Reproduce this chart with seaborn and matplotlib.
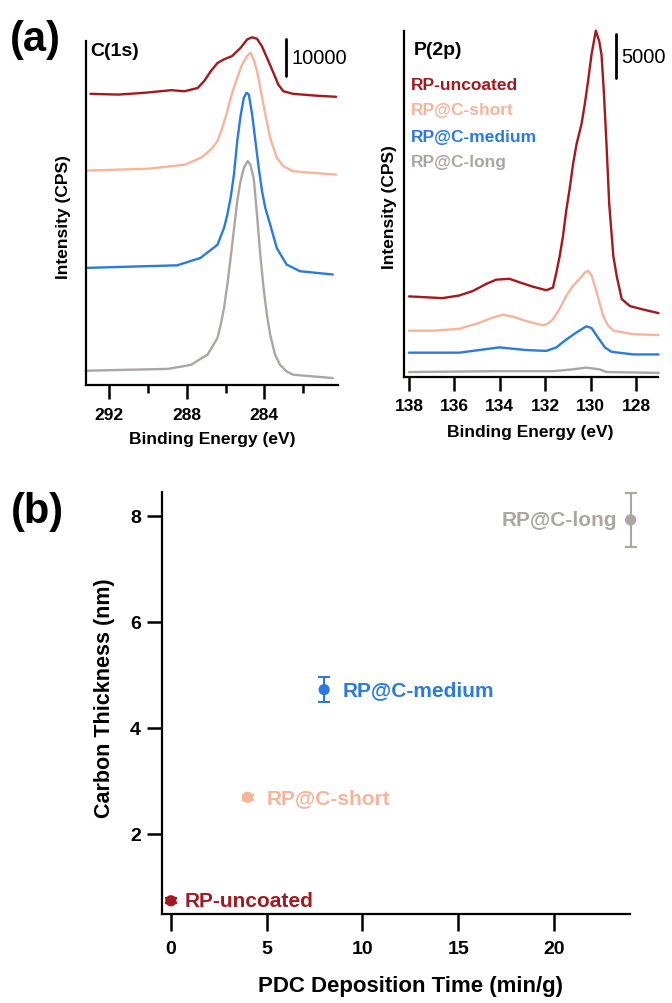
import numpy as np
import pandas as pd
import matplotlib
matplotlib.use("Agg")
import matplotlib.pyplot as plt
import seaborn as sns

# ---------------- data ----------------
samples = ["RP-uncoated", "RP@C-short", "RP@C-medium", "RP@C-long"]
colors = {"RP-uncoated": "#A2191F", "RP@C-short": "#F6B59B",
          "RP@C-medium": "#2A7AE2", "RP@C-long": "#ABA6A4"}

# C(1s) spectra, binding energy (eV) and intensity (CPS, stacked as displayed)
c1s_uncoated_be = [292.97, 291.52, 290.16, 288.8, 288.12, 287.44, 287.10, 286.76, 286.42, 286.08,
                   285.66, 285.23, 284.89, 284.64, 284.38, 284.13, 283.79, 283.53, 283.28, 283.02,
                   282.51, 281.32, 280.30]
c1s_uncoated_cps = [79300, 79100, 79600, 80300, 80000, 80900, 82800, 85500, 87700, 88700,
                    89600, 91800, 94100, 94700, 94300, 92300, 88200, 85000, 81800, 80000,
                    79300, 78800, 78500]
c1s_short_be = [293.2, 290.0, 288.1, 287.27, 286.76, 286.42, 286.17, 285.91, 285.66, 285.40,
                285.15, 284.89, 284.72, 284.55, 284.38, 284.21, 283.95, 283.70, 283.36, 283.02,
                282.51, 280.30]
c1s_short_cps = [58400, 58900, 60000, 61900, 64100, 66400, 70000, 74600, 79600, 83700,
                 87300, 89600, 90500, 88600, 85500, 80900, 73700, 67300, 61900, 59600,
                 58200, 57300]
c1s_medium_be = [293.2, 288.5, 287.3, 286.42, 286.08, 285.91, 285.74, 285.57, 285.40, 285.23,
                 285.06, 284.92, 284.80, 284.63, 284.46, 284.29, 284.12, 283.95, 283.70, 283.36,
                 282.85, 282.17, 280.47]
c1s_medium_cps = [31900, 32600, 34600, 38200, 42800, 46400, 51000, 57300, 66400, 73200,
                  78200, 79600, 79100, 73700, 66400, 59100, 52800, 48200, 43700, 37300,
                  32800, 31000, 30100]
c1s_long_be = [293.2, 288.97, 287.78, 286.93, 286.42, 286.25, 286.08, 285.91, 285.74, 285.57,
               285.40, 285.23, 285.06, 284.86, 284.72, 284.55, 284.38, 284.21, 284.04, 283.87,
               283.70, 283.45, 283.19, 282.85, 282.51, 280.47]
c1s_long_cps = [3900, 4400, 5500, 8300, 12800, 16400, 21000, 27300, 34600, 42300,
                50100, 55500, 59100, 61000, 60000, 56400, 46400, 35500, 26400, 19200,
                13700, 8300, 5500, 3700, 2800, 1900]

# P(2p) spectra
p2p_uncoated_be = [138.0, 137.26, 136.53, 135.79, 135.2, 134.61, 134.16, 133.58, 133.13, 132.54,
                   131.95, 131.66, 131.51, 131.36, 131.22, 131.07, 130.92, 130.77, 130.62, 130.40,
                   130.26, 130.11, 129.96, 129.77, 129.62, 129.52, 129.42, 129.30, 129.18, 129.0,
                   128.85, 128.63, 128.27, 127.68, 127.01]
p2p_uncoated_cps = [9200, 9100, 9000, 9300, 9800, 10600, 11100, 11200, 10800, 10300,
                    9900, 10200, 11900, 13800, 16000, 19000, 21500, 24300, 26500, 28800,
                    31000, 33700, 36700, 39400, 38200, 36700, 32600, 26500, 19700, 13800,
                    11500, 8900, 8100, 7700, 7300]
p2p_short_be = [138.0, 136.97, 135.79, 134.9, 134.31, 133.87, 133.43, 132.84, 132.10, 131.88,
                131.66, 131.36, 131.07, 130.77, 130.48, 130.26, 130.11, 129.96, 129.74, 129.45,
                129.23, 129.0, 128.12, 127.01]
p2p_short_cps = [5300, 5300, 5500, 6200, 6800, 7100, 6900, 6400, 5900, 6100,
                 6600, 7800, 9300, 10400, 11200, 11900, 12100, 11600, 9700, 7000,
                 5900, 5300, 4900, 4800]
p2p_medium_be = [138.0, 135.79, 134.02, 132.84, 131.95, 131.51, 131.07, 130.62, 130.19, 129.96,
                 129.67, 129.37, 129.08, 128.12, 127.01]
p2p_medium_cps = [2800, 2800, 3400, 3100, 3000, 3400, 4300, 5100, 5800, 5600,
                  4500, 3400, 2900, 2600, 2600]
p2p_long_be = [138.0, 134.0, 131.66, 130.8, 130.19, 129.6, 129.3, 127.0]
p2p_long_cps = [600, 700, 700, 900, 1100, 900, 600, 500]

# Panel (b): carbon thickness vs deposition time
pdc_time = [0, 4, 8, 24]
thickness = [0.74, 2.69, 4.72, 7.92]
thickness_err = [0.05, 0.05, 0.235, 0.51]

c1s_scale = 10000
p2p_scale = 5000

# ---------------- build tables ----------------
def long_df(pairs):
    rows = []
    for name, be, cps in pairs:
        rows.append(pd.DataFrame({"be": be, "cps": cps, "sample": name}))
    return pd.concat(rows, ignore_index=True)

c1s_df = long_df([("RP-uncoated", c1s_uncoated_be, c1s_uncoated_cps),
                  ("RP@C-short", c1s_short_be, c1s_short_cps),
                  ("RP@C-medium", c1s_medium_be, c1s_medium_cps),
                  ("RP@C-long", c1s_long_be, c1s_long_cps)])
p2p_df = long_df([("RP-uncoated", p2p_uncoated_be, p2p_uncoated_cps),
                  ("RP@C-short", p2p_short_be, p2p_short_cps),
                  ("RP@C-medium", p2p_medium_be, p2p_medium_cps),
                  ("RP@C-long", p2p_long_be, p2p_long_cps)])
b_df = pd.DataFrame({"time": pdc_time, "thick": thickness, "err": thickness_err, "sample": samples})

# ---------------- style ----------------
sns.set_theme(style="ticks")
plt.rcParams["font.family"] = ["Liberation Sans", "DejaVu Sans"]
plt.rcParams["axes.linewidth"] = 1.6
plt.rcParams["axes.edgecolor"] = "black"
plt.rcParams["text.color"] = "black"
plt.rcParams["axes.labelcolor"] = "black"
plt.rcParams["xtick.color"] = "black"
plt.rcParams["ytick.color"] = "black"

fig = plt.figure(figsize=(6.72, 10.04), dpi=100)
axL = fig.add_axes([0.1280, 0.6155, 0.375, 0.3427])
axR = fig.add_axes([0.6012, 0.6232, 0.378, 0.3452])
axB = fig.add_axes([0.2406, 0.0886, 0.6964, 0.4201])

# ---------------- panel (a) left: C(1s) ----------------
sns.lineplot(data=c1s_df, x="be", y="cps", hue="sample", hue_order=samples[::-1],
             palette=colors, ax=axL, legend=False, linewidth=1.7, estimator=None, sort=False)
axL.set_xlim(293.2, 280.2)
axL.set_ylim(0, 93700)
for ln in axL.lines:
    ln.set_clip_on(False)
axL.set_xticks([292, 288, 284])
axL.set_xticks([290, 286, 282], minor=True)
axL.set_yticks([])
axL.tick_params(axis="x", which="major", direction="out", length=10, width=1.8, pad=6,
                labelsize=12.5)
axL.tick_params(axis="x", which="minor", direction="out", length=5.5, width=1.8)
for t in axL.get_xticklabels():
    t.set_fontweight("bold")
sns.despine(ax=axL)
axL.set_xlabel("Binding Energy (eV)", fontsize=12.5, fontweight="bold")
axL.set_ylabel("Intensity (CPS)", fontsize=12.5, fontweight="bold")
axL.xaxis.set_label_coords(0.5, -0.135)
axL.yaxis.set_label_coords(-0.06, 0.49)
axL.text(292.97, 91000, "C(1s)", fontsize=14, fontweight="bold", ha="left", va="center")
axL.plot([282.9, 282.9], [84100, 84100 + c1s_scale], color="black", lw=2.0, clip_on=False)
axL.text(282.6, 89100, f"{c1s_scale}", fontsize=14.5, ha="left", va="center")

# ---------------- panel (a) right: P(2p) ----------------
sns.lineplot(data=p2p_df, x="be", y="cps", hue="sample", hue_order=samples[::-1],
             palette=colors, ax=axR, legend=False, linewidth=1.7, estimator=None, sort=False)
axR.set_xlim(138.22, 127.03)
axR.set_ylim(0, 39400)
for ln in axR.lines:
    ln.set_clip_on(False)
axR.set_xticks([138, 136, 134, 132, 130, 128])
axR.set_yticks([])
axR.tick_params(axis="x", which="major", direction="out", length=10, width=1.8, pad=5,
                labelsize=12.5)
for t in axR.get_xticklabels():
    t.set_fontweight("bold")
sns.despine(ax=axR)
axR.set_xlabel("Binding Energy (eV)", fontsize=12.5, fontweight="bold")
axR.set_ylabel("Intensity (CPS)", fontsize=12.5, fontweight="bold")
axR.xaxis.set_label_coords(0.496, -0.135)
axR.yaxis.set_label_coords(-0.028, 0.494)
axR.text(137.78, 37300, "P(2p)", fontsize=14, fontweight="bold", ha="left", va="center")
axR.plot([128.88, 128.88], [34080, 34080 + p2p_scale], color="black", lw=2.0, clip_on=False)
axR.text(128.63, 36500, f"{p2p_scale}", fontsize=14.5, ha="left", va="center")
leg_y = [33300, 30500, 27400, 24500]
for s, yy in zip(samples, leg_y):
    axR.text(137.92, yy, s, color=colors[s], fontsize=12.5, fontweight="bold",
             ha="left", va="center")

# ---------------- panel (b) ----------------
for _, r in b_df.iterrows():
    axB.errorbar(r["time"], r["thick"], yerr=r["err"], fmt="none", ecolor=colors[r["sample"]],
                 elinewidth=1.5, capsize=4.5, capthick=1.5, clip_on=False, zorder=2)
sns.scatterplot(data=b_df, x="time", y="thick", hue="sample", palette=colors, ax=axB,
                legend=False, s=65, edgecolor="none", zorder=3, clip_on=False)
axB.set_xlim(-0.48, 23.95)
axB.set_ylim(0.49, 8.44)
axB.set_xticks([0, 5, 10, 15, 20])
axB.set_yticks([2, 4, 6, 8])
axB.tick_params(axis="x", direction="out", length=12, width=1.8, pad=7, labelsize=14)
axB.tick_params(axis="y", direction="out", length=11, width=1.8, pad=4, labelsize=14)
for t in axB.get_xticklabels() + axB.get_yticklabels():
    t.set_fontweight("bold")
sns.despine(ax=axB)
axB.set_xlabel("PDC Deposition Time (min/g)", fontsize=16, fontweight="bold")
axB.set_ylabel("Carbon Thickness (nm)", fontsize=15.5, fontweight="bold")
axB.xaxis.set_label_coords(0.531, -0.145)
axB.yaxis.set_label_coords(-0.0998, 0.515)
label_offsets = {"RP-uncoated": (10, "left"), "RP@C-short": (14, "left"),
                 "RP@C-medium": (13.5, "left"), "RP@C-long": (-9.5, "right")}
for _, r in b_df.iterrows():
    dx, ha = label_offsets[r["sample"]]
    axB.annotate(r["sample"], (r["time"], r["thick"]), xytext=(dx, 0),
                 textcoords="offset points", color=colors[r["sample"]], fontsize=15,
                 fontweight="bold", ha=ha, va="center", annotation_clip=False)

fig.text(10 / 672, 1 - 20 / 1004, "(a)", fontsize=30, fontweight="bold", ha="left", va="top")
fig.text(11 / 672, 1 - 492 / 1004, "(b)", fontsize=30, fontweight="bold", ha="left", va="top")

fig.savefig("out.png", dpi=100)
